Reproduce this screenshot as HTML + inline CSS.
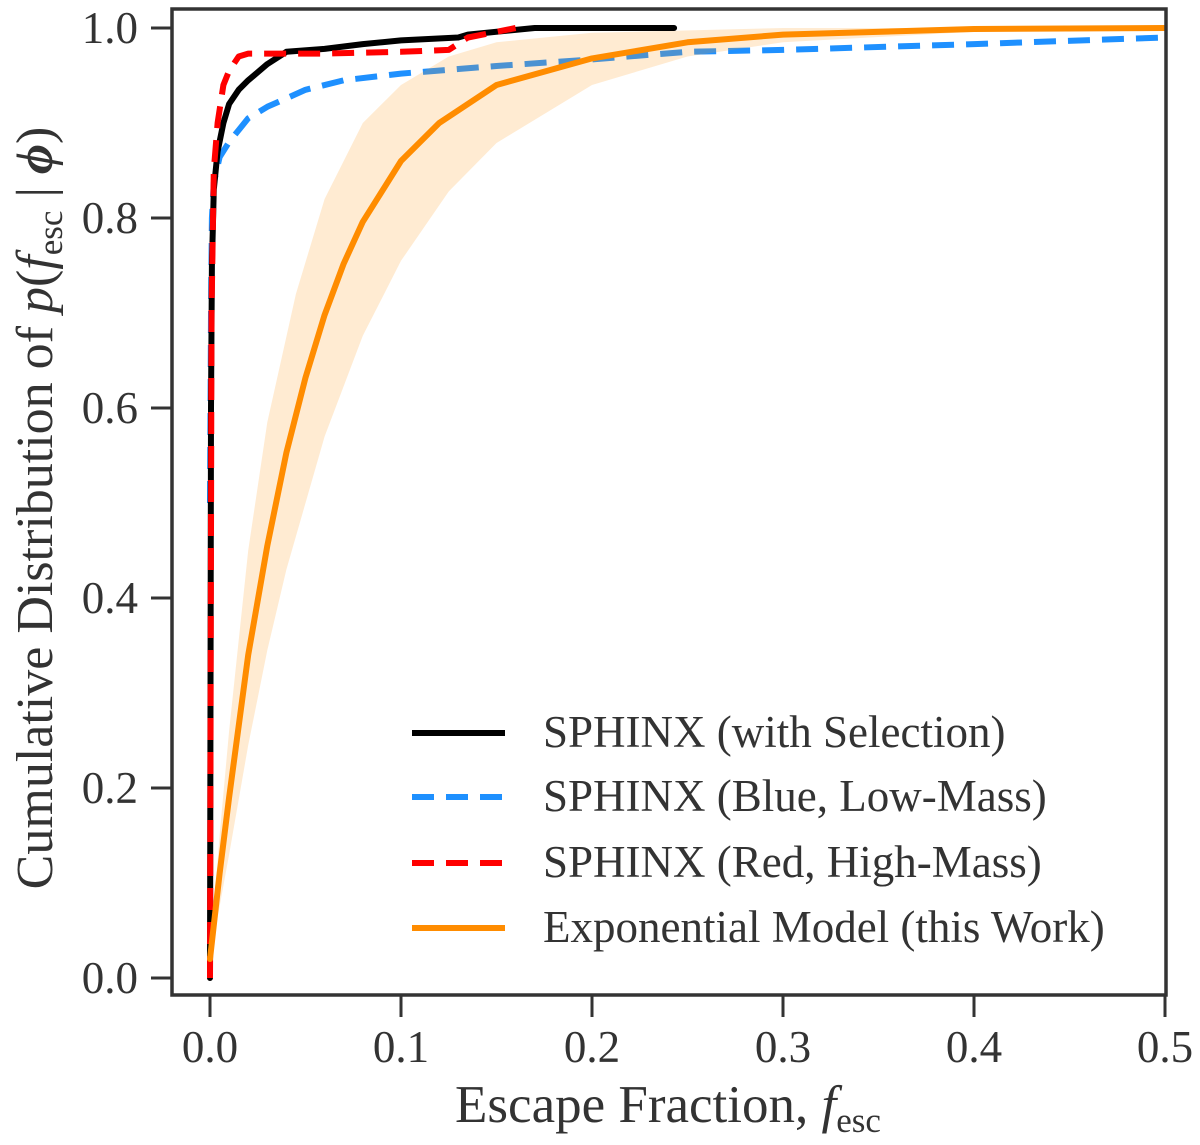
<!DOCTYPE html>
<html><head><meta charset="utf-8"><style>
html,body{margin:0;padding:0;background:#fff;}
svg{display:block;font-family:"Liberation Serif","DejaVu Serif",serif;}
</style></head><body>
<svg id="chart" width="1200" height="1145" viewBox="0 0 1200 1145" xmlns="http://www.w3.org/2000/svg">
<defs><clipPath id="clip"><rect x="172" y="8" width="994" height="987"/></clipPath></defs>
<g id="plot" clip-path="url(#clip)"></g>
<rect x="172" y="9" width="994" height="986" fill="none" stroke="#333" stroke-width="3.5"/>
<g id="axes"></g>
<text x="668" y="1122" font-size="53" fill="#333" text-anchor="middle">Escape Fraction, <tspan font-style="italic">f</tspan><tspan font-size="35" dy="10">esc</tspan></text>
<text transform="translate(52,508) rotate(-90)" font-size="52" fill="#333" text-anchor="middle">Cumulative Distribution of <tspan font-style="italic">p</tspan>(<tspan font-style="italic">f</tspan><tspan font-size="35" dy="10">esc</tspan><tspan dy="-10"> | </tspan><tspan font-style="italic" font-weight="bold">ϕ</tspan>)</text>
<g id="legend"></g>
</svg>
<script>
const xTicks=[0.0,0.1,0.2,0.3,0.4,0.5];
const xTickLabels=["0.0","0.1","0.2","0.3","0.4","0.5"];
const yTicks=[0.0,0.2,0.4,0.6,0.8,1.0];
const yTickLabels=["0.0","0.2","0.4","0.6","0.8","1.0"];
const blackX=[0,0.0005,0.001,0.002,0.004,0.007,0.01,0.015,0.02,0.03,0.04,0.06,0.08,0.1,0.13,0.135,0.17,0.243];
const blackY=[0,0.6,0.75,0.83,0.87,0.9,0.92,0.935,0.945,0.962,0.975,0.978,0.983,0.987,0.99,0.993,1.0,1.0];
const redX=[0,0.0008,0.002,0.004,0.007,0.01,0.015,0.02,0.06,0.1,0.125,0.135,0.16];
const redY=[0,0.7,0.85,0.9,0.94,0.955,0.97,0.973,0.973,0.975,0.977,0.99,1.0];
const blueX=[0,0.0005,0.001,0.002,0.005,0.01,0.02,0.03,0.05,0.07,0.1,0.15,0.2,0.25,0.3,0.4,0.5];
const blueY=[0.5,0.7,0.8,0.837,0.864,0.88,0.905,0.917,0.935,0.945,0.952,0.96,0.967,0.975,0.977,0.983,0.99];
const modelX=[0,0.005,0.01,0.02,0.03,0.04,0.05,0.06,0.07,0.08,0.1,0.12,0.15,0.2,0.25,0.3,0.4,0.5];
const modelY=[0.02,0.11,0.19,0.34,0.455,0.553,0.632,0.698,0.752,0.796,0.86,0.9,0.94,0.968,0.985,0.993,0.999,1.0];
const upperX=[0,0.005,0.01,0.02,0.03,0.045,0.06,0.08,0.1,0.125,0.15,0.2,0.3,0.5];
const upperY=[0.02,0.15,0.26,0.45,0.585,0.72,0.82,0.9,0.94,0.97,0.985,0.995,1.0,1.0];
const lowerX=[0,0.01,0.02,0.03,0.04,0.06,0.08,0.1,0.125,0.15,0.2,0.25,0.3,0.4,0.5];
const lowerY=[0.02,0.13,0.245,0.345,0.43,0.57,0.676,0.755,0.828,0.879,0.94,0.97,0.985,0.996,0.999];
const legendLabels=["SPHINX (with Selection)","SPHINX (Blue, Low-Mass)","SPHINX (Red, High-Mass)","Exponential Model (this Work)"];

const NS="http://www.w3.org/2000/svg";
const sx=v=>210+v*1910;
const sy=v=>978-v*950;
function mk(tag,attrs,parent){const e=document.createElementNS(NS,tag);for(const k in attrs)e.setAttribute(k,attrs[k]);parent.appendChild(e);return e;}
function pts(xs,ys){return xs.map((x,i)=>sx(x).toFixed(1)+","+sy(ys[i]).toFixed(1)).join(" ");}
const plot=document.getElementById('plot');
const axes=document.getElementById('axes');

let p=mk('polyline',{points:pts(blueX,blueY),fill:'none',stroke:'#1e90ff','stroke-width':6,'stroke-dasharray':'22,12','stroke-linejoin':'round'},plot);


let bandPts=pts(upperX,upperY)+" "+lowerX.map((x,i)=>[x,lowerY[i]]).reverse().map(d=>sx(d[0]).toFixed(1)+","+sy(d[1]).toFixed(1)).join(" ");
p=mk('polygon',{points:bandPts,fill:'#ff9a1f','fill-opacity':0.2,stroke:'none'},plot);


p=mk('polyline',{points:pts(blackX,blackY),fill:'none',stroke:'#000','stroke-width':6,'stroke-linejoin':'round','stroke-linecap':'round'},plot);


p=mk('polyline',{points:pts(redX,redY),fill:'none',stroke:'#f00','stroke-width':6,'stroke-dasharray':'22,12','stroke-linejoin':'round'},plot);


p=mk('polyline',{points:pts(modelX,modelY),fill:'none',stroke:'#ff8c00','stroke-width':6,'stroke-linejoin':'round','stroke-linecap':'round'},plot);



xTicks.forEach((v,i)=>{
  const t=mk('line',{x1:sx(v),x2:sx(v),y1:995,y2:1017,stroke:'#333','stroke-width':3},axes);
  
  
  const l=mk('text',{x:sx(v),y:1062,'font-size':45,fill:'#333','text-anchor':'middle'},axes);
  l.textContent=xTickLabels[i];
  
  
});
yTicks.forEach((v,i)=>{
  const t=mk('line',{x1:151,x2:172,y1:sy(v),y2:sy(v),stroke:'#333','stroke-width':3},axes);
  
  
  const l=mk('text',{x:138,y:sy(v)+15,'font-size':45,fill:'#333','text-anchor':'end'},axes);
  l.textContent=yTickLabels[i];
  
  
});

const leg=document.getElementById('legend');
const legStyles=[{s:'#000',d:''},{s:'#1e90ff',d:'22,12'},{s:'#f00',d:'22,12'},{s:'#ff8c00',d:''}];
const legYs=[733,797,863,928];
legendLabels.forEach((lab,i)=>{
  const y=legYs[i];
  const a={x1:412,x2:505,y1:y,y2:y,stroke:legStyles[i].s,'stroke-width':6};
  if(legStyles[i].d)a['stroke-dasharray']=legStyles[i].d;
  const ln=mk('line',a,leg);
  
  
  const t=mk('text',{x:543,y:y+14,'font-size':45,fill:'#333'},leg);
  t.textContent=lab;
  
  
});
</script>
</body></html>
